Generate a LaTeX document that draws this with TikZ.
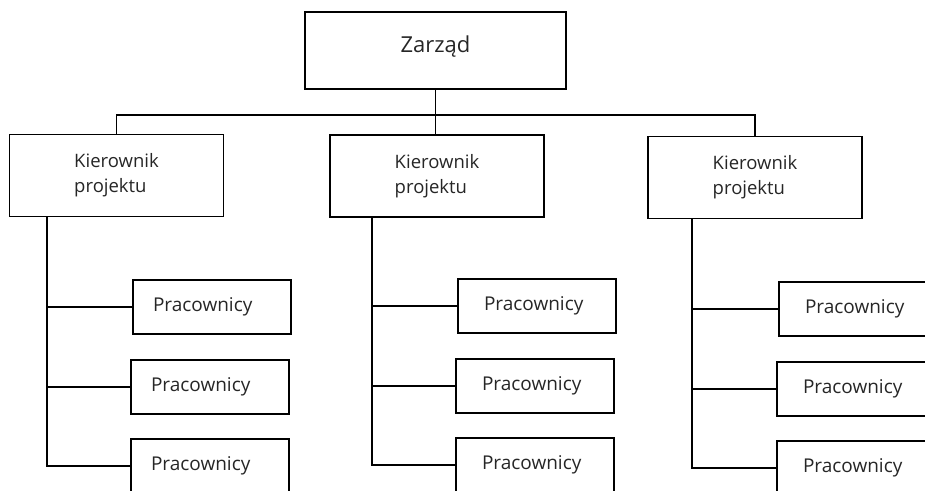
\documentclass[tikz,border=0pt]{standalone}
\usepackage{fontspec}
\setmainfont{Open Sans}
\begin{document}
\begin{tikzpicture}[x=1pt,y=-1pt,
  every node/.style={draw=black, line width=1.8pt, rectangle, text=black!85},
  link/.style={draw=black, line width=1.8pt},
  board/.style={minimum width=261pt, minimum height=77pt, font=\fontsize{22}{26}\selectfont,
                text height=16pt, text depth=13pt},
  manager/.style={minimum width=214pt, minimum height=82pt, align=left,
                  font=\fontsize{18.5}{25}\selectfont},
  worker/.style={minimum height=54pt, inner xsep=20pt, text width=118pt, align=left,
                 font=\fontsize{19}{23}\selectfont},
  workerb/.style={worker, inner xsep=26pt, text width=106pt}]
\useasboundingbox (0,0) rectangle (925,490);
\clip (0,0) rectangle (925,490);

% management
\node[board] (z) at (435.5,50.5) {Zarząd};

% project managers
\node[manager] (k1) at (116.5,175.5) {Kierownik\\projektu};
\node[manager] (k2) at (437,176) {Kierownik\\projektu};
\node[manager] (k3) at (755,177.5) {Kierownik\\projektu};

% workers, column 1
\node[worker]  (p11) at (212,307) {Pracownicy};
\node[worker]  (p12) at (210,387) {Pracownicy};
\node[worker]  (p13) at (210,466) {Pracownicy};
% workers, column 2
\node[workerb] (p21) at (537,306) {Pracownicy};
\node[workerb] (p22) at (535,386) {Pracownicy};
\node[workerb] (p23) at (535,465) {Pracownicy};
% workers, column 3
\node[workerb] (p31) at (858,309) {Pracownicy};
\node[workerb] (p32) at (856,389) {Pracownicy};
\node[workerb] (p33) at (856,468) {Pracownicy};

% bus under the board
\coordinate (bus) at (z.south |- 0,115);
\path[link] (z.south) -- (bus) -- (bus |- k2.north);
\path[link] (k1.north) |- (bus) -| (k3.north);

% trunks under each manager
\coordinate (t1) at (47,217);
\coordinate (t2) at (372,217);
\coordinate (t3) at (692,218);
\path[link] (t1) |- (p13.west);
\path[link] (p11.west) -- (p11.west -| t1);
\path[link] (p12.west) -- (p12.west -| t1);
\path[link] (t2) |- (p23.west);
\path[link] (p21.west) -- (p21.west -| t2);
\path[link] (p22.west) -- (p22.west -| t2);
\path[link] (t3) |- (p33.west);
\path[link] (p31.west) -- (p31.west -| t3);
\path[link] (p32.west) -- (p32.west -| t3);
\end{tikzpicture}
\end{document}
